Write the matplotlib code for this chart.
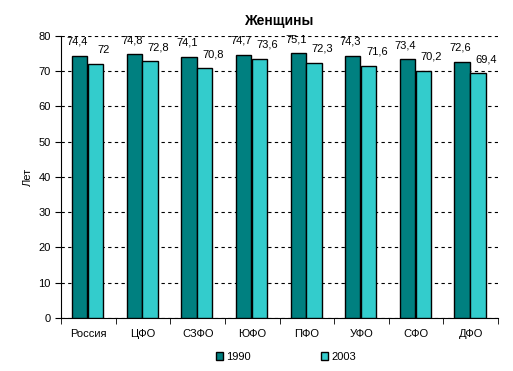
import matplotlib.pyplot as plt
import numpy as np

plt.rcParams['font.family'] = ['Liberation Sans', 'DejaVu Sans']

regions = ["Россия", "ЦФО", "СЗФО", "ЮФО", "ПФО", "УФО", "СФО", "ДФО"]
v1990 = [74.4, 74.8, 74.1, 74.7, 75.1, 74.3, 73.4, 72.6]
v2003 = [72, 72.8, 70.8, 73.6, 72.3, 71.6, 70.2, 69.4]
labels1990 = ["74,4", "74,8", "74,1", "74,7", "75,1", "74,3", "73,4", "72,6"]
labels2003 = ["72", "72,8", "70,8", "73,6", "72,3", "71,6", "70,2", "69,4"]

fig = plt.figure(figsize=(5.13, 3.71), dpi=100)
ax = fig.add_axes([0.119, 0.143, 0.852, 0.760])

x = np.arange(len(regions))
w = 0.28
ax.bar(x - w / 2 - 0.02, v1990, w, color="#008080", edgecolor="black", linewidth=1, label="1990", zorder=3)
ax.bar(x + w / 2 - 0.01, v2003, w, color="#33CCCC", edgecolor="black", linewidth=1, label="2003", zorder=3)

for xi, v, t in zip(x, v1990, labels1990):
    ax.text(xi - w / 2 - 0.06, v + 2.6, t, ha="center", va="bottom", fontsize=8)
for xi, v, t in zip(x, v2003, labels2003):
    ax.text(xi + w / 2 + 0.14, v + 2.6, t, ha="center", va="bottom", fontsize=8)

ax.set_xlim(-0.5, len(regions) - 0.5)
ax.set_ylim(0, 80)
ax.set_yticks(range(0, 81, 10))
ax.set_xticks(x)
ax.set_xticklabels(regions, fontsize=8)
ax.set_xticks(np.arange(-0.5, len(regions), 1), minor=True)
ax.tick_params(axis="x", which="major", length=0, pad=8)
ax.tick_params(axis="x", which="minor", length=4, direction="out")
ax.tick_params(axis="y", labelsize=8, length=4)
ax.grid(axis="y", color="black", linestyle=(0, (3, 3)), linewidth=0.8, zorder=0)
ax.spines["top"].set_visible(False)
ax.spines["right"].set_visible(False)
ax.set_ylabel("Лет", fontsize=8)
ax.set_title("Женщины", fontsize=10, fontweight="bold", pad=8)

ax.legend(loc="upper center", bbox_to_anchor=(0.515, -0.085), ncol=2, frameon=False, fontsize=8,
          handlelength=0.65, handleheight=0.65, handletextpad=0.3, columnspacing=6.3)

fig.savefig("out.png", dpi=100)
